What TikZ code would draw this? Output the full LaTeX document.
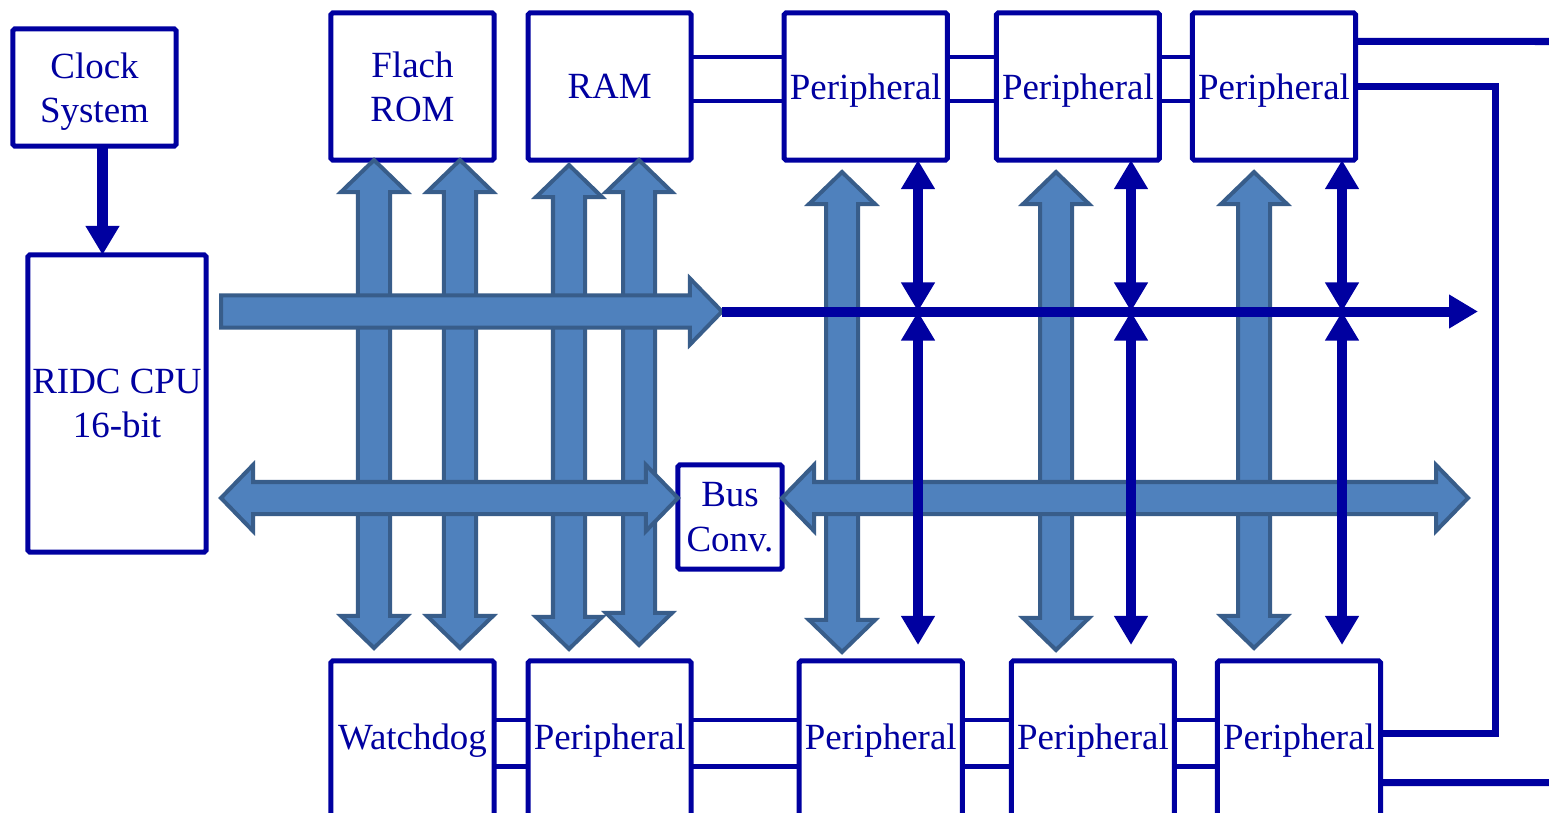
\documentclass[tikz,border=0pt]{standalone}
\usepackage{fontspec}
\setmainfont{Liberation Serif}
\usetikzlibrary{arrows.meta,calc,positioning}

\definecolor{chip}{RGB}{0,0,160}
\definecolor{busfill}{RGB}{79,129,189}
\definecolor{busline}{RGB}{56,93,138}

\begin{document}
\begin{tikzpicture}[
    x=0.01cm, y=-0.01cm,
    box/.style={rectangle, draw=chip, line width=0.05cm, fill=white,
      rounded corners=0.5pt, inner sep=0pt, outer sep=0pt, align=center,
      text=chip, font=\fontsize{10.5pt}{12.6pt}\selectfont,
      minimum width=1.63cm, minimum height=1.47cm},
    unit/.style={box, text depth=0pt},
    wire/.style={draw=chip, line width=0.045cm},
    trunk/.style={draw=chip, line width=0.07cm},
    sig/.style={draw=chip, line width=0.1cm,
      >={Triangle[width=0.32cm,length=0.29cm]}},
    fat/.style={draw=busline, fill=busfill, line width=0.04cm},
    fatdbl/.style={fat, to path={let \p1=(\tikztostart), \p2=(\tikztotarget) in
      -- ($(\p1)!0.32cm!(\p2)!0.33cm!90:(\p2)$)
      -- ($(\p1)!0.32cm!(\p2)!0.16cm!90:(\p2)$)
      -- ($(\p2)!0.32cm!(\p1)!0.16cm!-90:(\p1)$)
      -- ($(\p2)!0.32cm!(\p1)!0.33cm!-90:(\p1)$)
      -- (\p2)
      -- ($(\p2)!0.32cm!(\p1)!0.33cm!90:(\p1)$)
      -- ($(\p2)!0.32cm!(\p1)!0.16cm!90:(\p1)$)
      -- ($(\p1)!0.32cm!(\p2)!0.16cm!-90:(\p2)$)
      -- ($(\p1)!0.32cm!(\p2)!0.33cm!-90:(\p2)$)
      -- cycle}},
    fatone/.style={fat, to path={let \p1=(\tikztostart), \p2=(\tikztotarget) in
      -- ($(\p1)!0.16cm!90:(\p2)$)
      -- ($(\p2)!0.32cm!(\p1)!0.16cm!-90:(\p1)$)
      -- ($(\p2)!0.32cm!(\p1)!0.33cm!-90:(\p1)$)
      -- (\p2)
      -- ($(\p2)!0.32cm!(\p1)!0.33cm!90:(\p1)$)
      -- ($(\p2)!0.32cm!(\p1)!0.16cm!90:(\p1)$)
      -- ($(\p1)!0.16cm!-90:(\p2)$)
      -- cycle}}
  ]
    \path[fill=white, use as bounding box] (0,0) rectangle (1549,812);

    % ── Clock and CPU ────────────────────────────────────────
    \node[unit, minimum height=1.17cm] (clk) at (94.5,87.5) {Clock\\System};
    \node[unit, minimum width=1.78cm, minimum height=2.97cm] (cpu) at (117,403.5) {RIDC CPU\\16-bit};

    % ── Upper row: memories and peripherals ──────────────────
    \node[unit]                       (rom) at (412.5,86.5) {Flach\\ROM};
    \node[unit, right=0.34cm of rom]  (ram) {RAM};
    \node[unit, right=0.93cm of ram]  (pa)  {Peripheral};
    \node[unit, right=0.49cm of pa]   (pb)  {Peripheral};
    \node[unit, right=0.33cm of pb]   (pc)  {Peripheral};

    % ── Bus converter ────────────────────────────────────────
    \node[unit, minimum width=1.04cm, minimum height=1.04cm] (conv) at (730,517) {Bus\\Conv.};

    % ── Lower row ────────────────────────────────────────────
    \node[box, minimum height=1.6cm]                  (wdg) at (412.5,741) {Watchdog};
    \node[box, minimum height=1.6cm, right=0.34cm of wdg] (pd) {Peripheral};
    \node[box, minimum height=1.6cm, right=1.08cm of pd]  (pe) {Peripheral};
    \node[box, minimum height=1.6cm, right=0.49cm of pe]  (pf) {Peripheral};
    \node[box, minimum height=1.6cm, right=0.43cm of pf]  (pg) {Peripheral};

    % ── Bus ends and column positions ────────────────────────
    \coordinate (abus)    at (221,311.5);
    \coordinate (abusend) at (722,311.5);
    \coordinate (addrend) at (1478,311.5);
    \coordinate (dbus)    at (221,498);
    \coordinate (dbusend) at (1468,498);
    \coordinate (v1) at (374,0);
    \coordinate (v2) at (460,0);
    \coordinate (v3) at (569,0);
    \coordinate (v4) at (639,0);
    \coordinate (v5) at (842,0);
    \coordinate (v6) at (1056,0);
    \coordinate (v7) at (1254,0);
    \coordinate (xa) at (918,311.5);
    \coordinate (xb) at (1131,311.5);
    \coordinate (xc) at (1342,311.5);
    \coordinate (loop) at (1495,400);
    \coordinate (outA) at (1560,41.5);
    \coordinate (outB) at (1560,782.5);

    % ── Links between neighbouring blocks ────────────────────
    \draw[wire] ([yshift=0.295cm]ram.east) -- ([yshift=0.295cm]pa.west);
    \draw[wire] ([yshift=-0.145cm]ram.east) -- ([yshift=-0.145cm]pa.west);
    \draw[wire] ([yshift=0.295cm]pa.east) -- ([yshift=0.295cm]pb.west);
    \draw[wire] ([yshift=-0.145cm]pa.east) -- ([yshift=-0.145cm]pb.west);
    \draw[wire] ([yshift=0.295cm]pb.east) -- ([yshift=0.295cm]pc.west);
    \draw[wire] ([yshift=-0.145cm]pb.east) -- ([yshift=-0.145cm]pc.west);

    \draw[wire] ([yshift=0.21cm]wdg.east) -- ([yshift=0.21cm]pd.west);
    \draw[wire] ([yshift=-0.257cm]wdg.east) -- ([yshift=-0.257cm]pd.west);
    \draw[wire] ([yshift=0.21cm]pd.east) -- ([yshift=0.21cm]pe.west);
    \draw[wire] ([yshift=-0.257cm]pd.east) -- ([yshift=-0.257cm]pe.west);
    \draw[wire] ([yshift=0.21cm]pe.east) -- ([yshift=0.21cm]pf.west);
    \draw[wire] ([yshift=-0.257cm]pe.east) -- ([yshift=-0.257cm]pf.west);
    \draw[wire] ([yshift=0.21cm]pf.east) -- ([yshift=0.21cm]pg.west);
    \draw[wire] ([yshift=-0.257cm]pf.east) -- ([yshift=-0.257cm]pg.west);

    % ── Outgoing lines on the right ──────────────────────────
    \draw[trunk] ([yshift=0.45cm]pc.east) -- (outA);
    \draw[trunk] (pc.east) -| (loop) |- ([yshift=0.075cm]pg.east);
    \draw[trunk] ([yshift=-0.415cm]pg.east) -- (outB);

    % ── Vertical buses (fat) ─────────────────────────────────
    \draw[fatdbl] (rom.south -| v1) to ($(wdg.north -| v1)+(0,-13)$);
    \draw[fatdbl] (rom.south -| v2) to ($(wdg.north -| v2)+(0,-13)$);
    \draw[fatdbl] ($(ram.south -| v3)+(0,5)$) to ($(pd.north -| v3)+(0,-12)$);
    \draw[fatdbl] (ram.south -| v4) to ($(pd.north -| v4)+(0,-16)$);
    \draw[fatdbl] ($(pa.south -| v5)+(0,12)$) to ($(pe.north -| v5)+(0,-9)$);
    \draw[fatdbl] ($(pb.south -| v6)+(0,12)$) to ($(pf.north -| v6)+(0,-11)$);
    \draw[fatdbl] ($(pc.south -| v7)+(0,12)$) to ($(pg.north -| v7)+(0,-13)$);

    % ── Horizontal buses (fat) ───────────────────────────────
    \draw[fatone] (abus) to (abusend);
    \draw[fatdbl] (dbus) to (conv.west |- dbus);
    \draw[fatdbl] (conv.east |- dbus) to (dbusend);

    % ── Thin signal lines ────────────────────────────────────
    \draw[sig, line width=0.11cm, ->] ($(clk.south)+(8,0)$) -- ($(clk.south |- cpu.north)+(8,0)$);
    \draw[sig, ->] (abusend) -- (addrend);
    \draw[sig, <->] (pa.south -| xa) -- (xa);
    \draw[sig, <->, shorten >=0.16cm] (xa) -- (pe.north -| xa);
    \draw[sig, <->] (pb.south -| xb) -- (xb);
    \draw[sig, <->, shorten >=0.16cm] (xb) -- (pf.north -| xb);
    \draw[sig, <->] (pc.south -| xc) -- (xc);
    \draw[sig, <->, shorten >=0.16cm] (xc) -- (pg.north -| xc);
\end{tikzpicture}
\end{document}
